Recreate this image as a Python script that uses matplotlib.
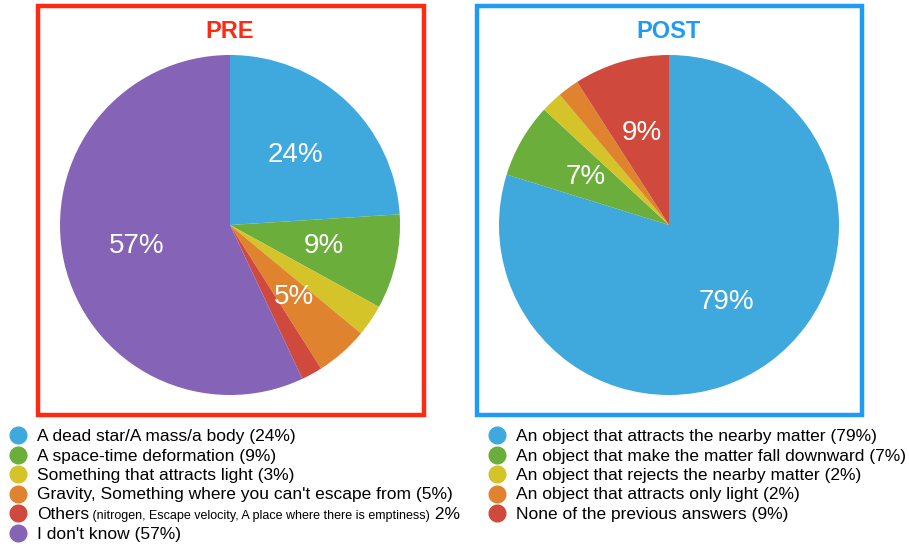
import matplotlib
matplotlib.use("Agg")
import matplotlib.pyplot as plt
from matplotlib.patches import Rectangle
from matplotlib.lines import Line2D

plt.rcParams['font.family'] = ['Liberation Sans', 'DejaVu Sans']

# data
pre_values = [24, 9, 3, 5, 2, 57]
pre_colors = ['#3fa9dd', '#6bae3b', '#d5c32a', '#e0832f', '#cf4a3c', '#8563b7']
pre_labels = ['A dead star/A mass/a body (24%)',
              'A space-time deformation (9%)',
              'Something that attracts light (3%)',
              "Gravity, Something where you can't escape from (5%)",
              'Others',
              "I don't know (57%)"]
pre_others_note = '(nitrogen, Escape velocity, A place where there is emptiness)'
pre_others_pct = '2%'

post_values = [79, 7, 2, 2, 9]
post_colors = ['#3fa9dd', '#6bae3b', '#d5c32a', '#e0832f', '#cf4a3c']
post_labels = ['An object that attracts the nearby matter (79%)',
               'An object that make the matter fall downward (7%)',
               'An object that rejects the nearby matter (2%)',
               'An object that attracts only light (2%)',
               'None of the previous answers (9%)']

W, H = 909, 547
fig = plt.figure(figsize=(W / 100, H / 100), dpi=100)


def fx(x):
    return x / W


def fy(y):
    return 1 - y / H


def draw_pie(cx, cy, r, values, colors):
    ax = fig.add_axes([fx(cx - r), fy(cy + r), 2 * r / W, 2 * r / H])
    # only the bigger slices get a percentage inside
    inner = ['%d%%' % v if v >= 5 else '' for v in values]
    ax.pie(values, colors=colors, startangle=90, counterclock=False,
           labels=inner, labeldistance=0.565,
           textprops=dict(color='white', fontsize=20, ha='center', va='center'))
    ax.set_xlim(-1, 1)
    ax.set_ylim(-1, 1)
    ax.set_aspect('equal')
    ax.axis('off')
    return ax


draw_pie(230, 225, 170, pre_values, pre_colors)
draw_pie(669, 225, 170, post_values, post_colors)

# frames
fig.add_artist(Rectangle((fx(38), fy(415)), fx(424) - fx(38), fy(6) - fy(415),
                         transform=fig.transFigure, fill=False,
                         edgecolor='#ff2a12', linewidth=3.2))
fig.add_artist(Rectangle((fx(477), fy(415)), fx(862) - fx(477), fy(6) - fy(415),
                         transform=fig.transFigure, fill=False,
                         edgecolor='#1f9bf5', linewidth=3.2))

fig.text(fx(230), fy(32), 'PRE', color='#ff2a12', fontsize=17,
         fontweight='bold', ha='center', va='center')
fig.text(fx(669), fy(32), 'POST', color='#1f9bf5', fontsize=17,
         fontweight='bold', ha='center', va='center')

# legends
row_y = [435, 454.5, 474, 493.5, 513, 532.5]
fs = 12.5

for i, (lab, c) in enumerate(zip(pre_labels, pre_colors)):
    y = row_y[i]
    fig.add_artist(Line2D([fx(18)], [fy(y)], marker='o', markersize=12,
                          color=c, transform=fig.transFigure))
    t = fig.text(fx(37), fy(y + 6), lab, fontsize=fs, va='baseline')
    if lab == 'Others':
        t2 = plt.annotate(' ' + pre_others_note, xy=(1, fy(y + 6)),
                          xycoords=(t, 'figure fraction'), fontsize=9,
                          va='baseline', annotation_clip=False)
        plt.annotate(' ' + pre_others_pct, xy=(1, fy(y + 6)),
                     xycoords=(t2, 'figure fraction'), fontsize=fs,
                     va='baseline', annotation_clip=False)

for i, (lab, c) in enumerate(zip(post_labels, post_colors)):
    y = row_y[i]
    fig.add_artist(Line2D([fx(497)], [fy(y)], marker='o', markersize=12,
                          color=c, transform=fig.transFigure))
    fig.text(fx(516), fy(y + 6), lab, fontsize=fs, va='baseline')

fig.savefig('out.png', dpi=100)
